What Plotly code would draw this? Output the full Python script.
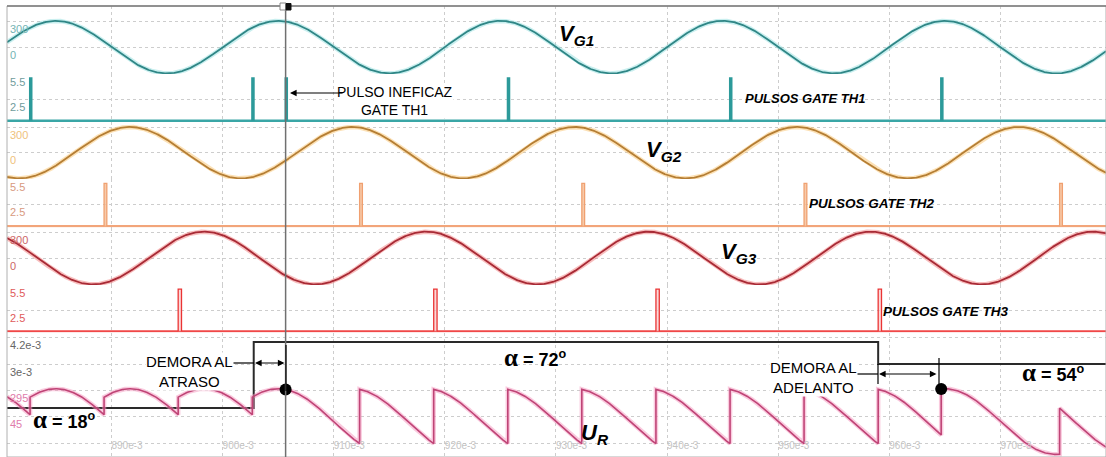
import numpy as np
import plotly.graph_objects as go

# ---------------- data ----------------
# time window shown (s) and x grid labels
T_START, T_END = 0.880595, 0.979505
X_TICKS = [0.89, 0.90, 0.91, 0.92, 0.93, 0.94, 0.95, 0.96, 0.97]
X_TICK_LABELS = ["890e-3", "900e-3", "910e-3", "920e-3", "930e-3",
                 "940e-3", "950e-3", "960e-3", "970e-3"]

# three-phase supply
V_PEAK = 311.0
FREQ = 50.0
PHASE_SHIFT_DEG = [0.0, -120.0, -240.0]

# gate pulse instants (s)
TH1_PULSES = [0.88267, 0.90267, 0.90567, 0.92567, 0.94567, 0.96467]
TH2_PULSES = [0.88933, 0.91233, 0.93233, 0.95233, 0.97533]
TH3_PULSES = [0.89600, 0.91900, 0.93900, 0.95900, 0.98200]
PULSE_HIGH = 5.0

# firing-delay setpoint (s)
ALPHA_STEP_T = [0.880595, 0.90280, 0.95900]
ALPHA_DELAY = [1e-3, 4e-3, 3e-3]

# output voltage: instants where a thyristor takes over and its phase
UR_SWITCH_T = [0.88267, 0.88933, 0.89600, 0.90267, 0.91233, 0.91900,
               0.92567, 0.93233, 0.93900, 0.94567, 0.95233, 0.95900,
               0.96467, 0.97533, 0.98200]
UR_PHASE = [1, 2, 3, 1, 2, 3, 1, 2, 3, 1, 2, 3, 1, 2, 3]
UR_START_PHASE = 3

# marked instants (ineffective pulse, new firing after advance)
MARK_T = [0.90567, 0.96467]

# axis tick values / labels
VG_TICKS = [300, 0]
VG_TICK_LABELS = ["300", "0"]
P_TICKS = [5.5, 2.5]
P_TICK_LABELS = ["5.5", "2.5"]
ALPHA_AX_TICKS = [4.2e-3, 3e-3, 1.8e-3, 0.6e-3, -0.6e-3]
ALPHA_AX_LABELS = ["4.2e-3", "3e-3", "", "", ""]
UR_TICKS = [295, 45]
UR_TICK_LABELS = ["295", "45"]

# ---------------- helpers ----------------
W, H = 1106, 457
ML, MT = 7, 6
PW, PH = W - ML, H - MT


def xp(px):
    return (px - ML) / PW


def yp(py):
    return (H - py) / PH


def phase_v(k, t):
    return V_PEAK * np.sin(2 * np.pi * FREQ * t + np.deg2rad(PHASE_SHIFT_DEG[k - 1]))


t = np.linspace(T_START, T_END, 3000)

# output voltage built segment by segment from the conducting phase
edges = [T_START] + UR_SWITCH_T + [T_END]
phases = [UR_START_PHASE] + UR_PHASE
ur_t, ur_v = [], []
for i in range(len(edges) - 1):
    a, b = edges[i], min(edges[i + 1], T_END)
    if b <= a:
        continue
    seg_t = np.linspace(a, b, 120)
    ur_t.append(seg_t)
    ur_v.append(phase_v(phases[i], seg_t))
ur_t = np.concatenate(ur_t)
ur_v = np.concatenate(ur_v)


def ur_at(tt):
    k = UR_START_PHASE
    for s, p in zip(UR_SWITCH_T, UR_PHASE):
        if s <= tt:
            k = p
    return float(phase_v(k, tt))


def pulse_train(times, width):
    xs, ys = [], []
    for p in times:
        xs += [p, p, p + width, p + width, None]
        ys += [0, PULSE_HIGH, PULSE_HIGH, 0, None]
    return xs, ys


fig = go.Figure()

# colours
TEAL, TEAL_HALO = "#2f8686", "rgba(120,215,215,0.40)"
TEAL_P = "#2c9a9a"
ORG, ORG_HALO = "#b57e34", "rgba(250,195,110,0.50)"
ORG_P = "#f0a070"
RED, RED_HALO = "#a82a35", "rgba(240,110,110,0.45)"
RED_P = "#ea3434"
MAG, MAG_HALO = "#bf4476", "rgba(245,150,190,0.5)"


def line(x, y, axis, color, width, shape=None, fill=None, fillcolor=None):
    ln = dict(color=color, width=width)
    if shape:
        ln["shape"] = shape
    kw = {}
    if fill:
        kw = dict(fill=fill, fillcolor=fillcolor)
    fig.add_trace(go.Scatter(x=x, y=y, yaxis=axis, mode="lines", line=ln,
                             hoverinfo="skip", showlegend=False, **kw))


# phase voltages with a soft halo
for k, ax, c, hc in [(1, "y", TEAL, TEAL_HALO), (2, "y3", ORG, ORG_HALO), (3, "y5", RED, RED_HALO)]:
    v = phase_v(k, t)
    line(t, v, ax, hc, 4.5)
    line(t, v, ax, c, 1.8)

# gate pulses and baselines
line([T_START, T_END], [0, 0], "y2", "#3aa6a6", 2.5)
xs, ys = pulse_train(TH1_PULSES, 0.00012)
line(xs, ys, "y2", TEAL_P, 2.2)

line([T_START, T_END], [0, 0], "y4", "#f2a57a", 2.2)
xs, ys = pulse_train(TH2_PULSES, 0.00025)
line(xs, ys, "y4", ORG_P, 1.3, fill="toself", fillcolor="rgba(245,190,150,0.8)")

line([T_START, T_END], [0, 0], "y6", "#f04848", 2.2)
xs, ys = pulse_train(TH3_PULSES, 0.00030)
line(xs, ys, "y6", RED_P, 1.3, fill="toself", fillcolor="rgba(250,200,200,0.7)")

# firing-delay setpoint
line(ALPHA_STEP_T + [T_END], ALPHA_DELAY + [ALPHA_DELAY[-1]], "y7", "#2a2a2a", 2, shape="hv")

# output voltage
line(ur_t, ur_v, "y8", MAG_HALO, 4.5)
line(ur_t, ur_v, "y8", MAG, 1.6)

# marked instants
fig.add_trace(go.Scatter(x=MARK_T, y=[ur_at(m) for m in MARK_T], yaxis="y8", mode="markers",
                         marker=dict(color="black", size=12), hoverinfo="skip", showlegend=False))

# ---------------- axes ----------------
GRID = "#cdcdcd"
TICKFONT = "Liberation Sans"


def yaxis(domain, rng, tickvals, ticktext, color, **kw):
    d = dict(domain=domain, range=rng, anchor="x", tickvals=tickvals, ticktext=ticktext,
             showgrid=True, gridcolor=GRID, griddash="dot", gridwidth=1,
             zeroline=False, showline=False, ticks="",
             ticklabelposition="inside bottom", ticklabeloverflow="allow",
             tickfont=dict(family=TICKFONT, size=11, color=color), fixedrange=True)
    d.update(kw)
    return d


fig.update_layout(
    width=W, height=H,
    margin=dict(l=ML, r=0, t=MT, b=0),
    paper_bgcolor="white", plot_bgcolor="white",
    xaxis=dict(range=[T_START, T_END], anchor="y7", domain=[0, 1],
               tickvals=X_TICKS, ticktext=X_TICK_LABELS,
               showgrid=True, gridcolor=GRID, griddash="dot", gridwidth=1,
               zeroline=False, showline=False, ticks="",
               ticklabelposition="inside right", ticklabeloverflow="allow",
               tickfont=dict(family=TICKFONT, size=10, color="#c4c4c4")),
    yaxis=yaxis([yp(74), 1.0], [-318, 487], VG_TICKS, VG_TICK_LABELS, "#74b4b4"),
    yaxis2=yaxis([yp(122), yp(74)], [-0.15, 5.5], P_TICKS, P_TICK_LABELS, "#6f9c9c"),
    yaxis3=yaxis([yp(179), yp(122)], [-318, 371], VG_TICKS, VG_TICK_LABELS, "#efc27c"),
    yaxis4=yaxis([yp(227.5), yp(179)], [-0.15, 5.5], P_TICKS, P_TICK_LABELS, "#d89a80"),
    yaxis5=yaxis([yp(285), yp(227.5)], [-318, 360], VG_TICKS, VG_TICK_LABELS, "#cc6666"),
    yaxis6=yaxis([yp(332.5), yp(285)], [-0.15, 5.5], P_TICKS, P_TICK_LABELS, "#e05a5a"),
    yaxis7=yaxis([0, yp(332.5)], [-1.227e-3, 4.432e-3], ALPHA_AX_TICKS, ALPHA_AX_LABELS, "#666666"),
    yaxis8=dict(overlaying="y7", anchor="x", range=[-335.7, 843.3], side="left",
                tickvals=UR_TICKS, ticktext=UR_TICK_LABELS, showgrid=False, zeroline=False,
                showline=False, ticks="", ticklabelposition="inside bottom",
                ticklabeloverflow="allow",
                tickfont=dict(family=TICKFONT, size=11, color="#e07cab"), fixedrange=True),
)

# ---------------- frame, cursor, leader lines ----------------
shapes = []
shapes.append(dict(type="rect", xref="paper", yref="paper", x0=0, x1=1, y0=0, y1=1,
                   line=dict(color="#b0b0b0", width=1)))
shapes.append(dict(type="line", xref="paper", yref="paper", x0=0, x1=1, y0=1, y1=1,
                   line=dict(color="#7a7a7a", width=1.5)))
# cursor
shapes.append(dict(type="line", xref="x", yref="paper", x0=MARK_T[0], x1=MARK_T[0], y0=0, y1=1,
                   line=dict(color="#707070", width=1.5)))
# cursor handle
shapes.append(dict(type="rect", xref="paper", yref="paper", x0=xp(280), x1=xp(286),
                   y0=yp(10), y1=yp(3), fillcolor="white", line=dict(color="#888", width=1)))
shapes.append(dict(type="rect", xref="paper", yref="paper", x0=xp(286), x1=xp(291),
                   y0=yp(10), y1=yp(3.5), fillcolor="#111", line=dict(color="#111", width=1)))


def seg(x0, y0, x1, y1, w=1.2):
    shapes.append(dict(type="line", xref="paper", yref="paper", x0=xp(x0), y0=yp(y0),
                       x1=xp(x1), y1=yp(y1), line=dict(color="black", width=w)))


# delay on retard
seg(228, 363, 254, 363)
seg(286, 345, 286, 391)
# delay on advance
seg(849, 374, 878, 374)
seg(878, 364, 878, 384)
seg(939, 358, 939, 391)
fig.update_layout(shapes=shapes)

# ---------------- text ----------------
PLAIN = "Liberation Sans, Arial"
BOLD = "Liberation Sans, Arial"
ann = []


def text(px, py, s, size, family=BOLD, bg=None, align="center"):
    d = dict(xref="paper", yref="paper", x=xp(px), y=yp(py), text=s, showarrow=False,
             font=dict(family=family, size=size, color="black"), align=align,
             xanchor="center", yanchor="middle", borderpad=0)
    if bg:
        d["bgcolor"] = bg
    ann.append(d)


def arrow(hx, hy, tx, ty, both=False):
    ann.append(dict(xref="paper", yref="paper", x=xp(hx), y=yp(hy),
                    axref="pixel", ayref="pixel", ax=tx - hx, ay=ty - hy,
                    text="", showarrow=True, arrowhead=2, arrowsize=1.1, arrowwidth=1.2,
                    arrowcolor="black", arrowside="end+start" if both else "end",
                    standoff=0, startstandoff=0))


text(576, 35, "<b><i>V<sub>G1</sub></i></b>", 22)
text(664, 151, "<b><i>V<sub>G2</sub></i></b>", 22)
text(739, 253, "<b><i>V<sub>G3</sub></i></b>", 22)
text(595, 434, "<b><i>U<sub>R</sub></i></b>", 22)

text(395, 101, "PULSO INEFICAZ<br>GATE TH1", 14, PLAIN, bg="white")
arrow(290, 93, 344, 93)

text(805, 98, "<b><i>PULSOS GATE TH1</i></b>", 13)
text(872, 204, "<b><i>PULSOS GATE TH2</i></b>", 13.5)
text(946, 311, "<b><i>PULSOS GATE TH3</i></b>", 13.5)

text(189, 371, "DEMORA AL<br>ATRASO", 15, PLAIN, bg="white")
arrow(255, 363, 286, 363, both=True)

text(813, 377, "DEMORA AL<br>ADELANTO", 15, PLAIN, bg="white")
arrow(879, 374, 938, 374, both=True)

ALPHA = '<span style="font-family:Liberation Serif;font-size:25px">α</span>'
text(64, 419, f"<b>{ALPHA} = 18<sup>o</sup></b>", 18)
text(535, 357, f"<b>{ALPHA} = 72<sup>o</sup></b>", 18)
text(1053, 372, f"<b>{ALPHA} = 54<sup>o</sup></b>", 18)

fig.update_layout(annotations=ann)

fig.write_html("out.html")
